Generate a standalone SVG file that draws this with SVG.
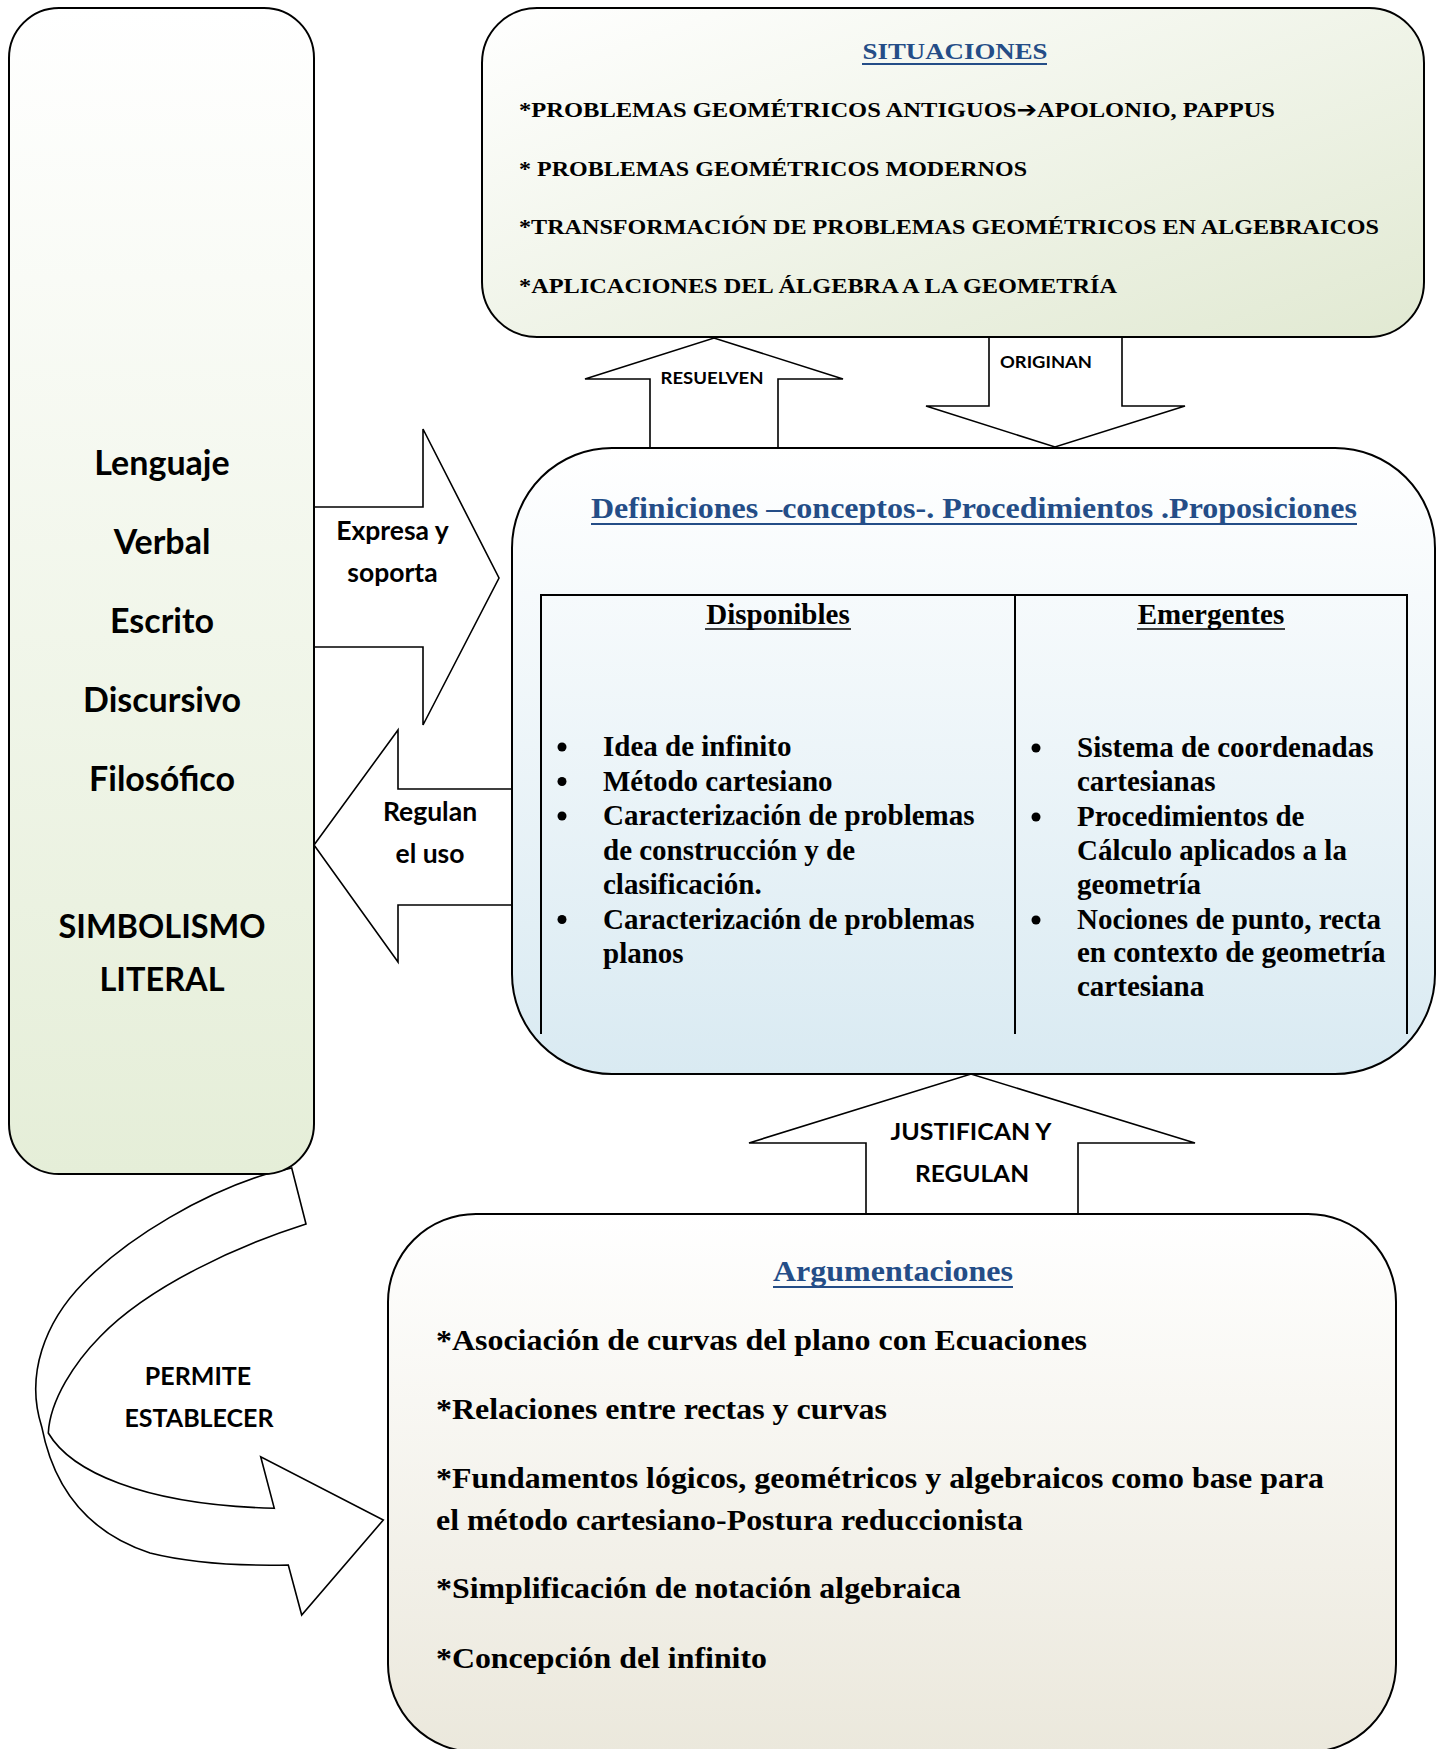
<svg xmlns="http://www.w3.org/2000/svg" width="1443" height="1749" viewBox="0 0 1443 1749">
<defs>
<linearGradient id="gLeft" x1="0" y1="0" x2="0" y2="1"><stop offset="0" stop-color="#ffffff"/><stop offset="1" stop-color="#e5eed8"/></linearGradient>
<linearGradient id="gTop" x1="0" y1="0" x2="1" y2="1"><stop offset="0" stop-color="#ffffff"/><stop offset="1" stop-color="#e1e9d2"/></linearGradient>
<linearGradient id="gMid" x1="0" y1="0" x2="0" y2="1"><stop offset="0" stop-color="#ffffff"/><stop offset="1" stop-color="#d9eaf2"/></linearGradient>
<linearGradient id="gBot" x1="0" y1="0" x2="0" y2="1"><stop offset="0" stop-color="#ffffff"/><stop offset="1" stop-color="#ebe8dc"/></linearGradient>
<style>
.box{stroke:#000;stroke-width:2}
.arr{fill:#fff;stroke:#000;stroke-width:1.6;stroke-linejoin:miter}
.lbl{font-family:Lato,"Open Sans","Liberation Sans",sans-serif;font-weight:bold;fill:#000}
.big{font-family:Lato,"Open Sans","Liberation Sans",sans-serif;font-weight:bold;font-size:34px;fill:#000;text-anchor:middle}
.caps{font-size:32.5px}
.ser{font-family:"Liberation Serif","Times New Roman",serif;font-weight:bold;fill:#000}
.blue{fill:#244d87}
.ul{stroke:#000;stroke-width:1.6}
.ulb{stroke:#244d87;stroke-width:2}
.tl{stroke:#000;stroke-width:2;fill:none}
.sym{font-family:"DejaVu Sans",sans-serif;font-weight:bold}
</style>
</defs>
<rect width="1443" height="1749" fill="#ffffff"/>

<g id="connectors">
<path class="arr" d="M291.7 1168 L306 1224 C240 1245 150 1285 100 1336.7 C75 1362 50 1400 48.3 1433 C70 1470 140 1505 274.3 1508.3 L260.7 1456.7 L383.3 1520 L301.7 1615 L288.3 1565 C240 1566 190 1563 150 1553 C80 1530 52 1480 41.7 1426.7 C25 1375 45 1322 83.3 1283 C130 1235 205 1193 266.7 1174 Z"/>
<polygon class="arr" points="650,448 650,379 585,379 714,338 843,379 778,379 778,448"/>
<polygon class="arr" points="989,337 989,406 926,406 1055,447 1185,406 1122,406 1122,337"/>
<polygon class="arr" points="314,507 423,507 423,429 499,578 423,725 423,647 314,647"/>
<polygon class="arr" points="512,789 398,789 398,730 314,845 398,962 398,905 512,905"/>
<polygon class="arr" points="866,1214 866,1143 749,1143 971,1074 1195,1143 1078,1143 1078,1214"/>
<text class="lbl" x="712" y="384" font-size="17.5" text-anchor="middle" textLength="103" lengthAdjust="spacingAndGlyphs">RESUELVEN</text>
<text class="lbl" x="1000" y="368" font-size="17.5" textLength="92" lengthAdjust="spacingAndGlyphs">ORIGINAN</text>
<text class="lbl" x="392.5" y="540" font-size="26.5" text-anchor="middle">Expresa y</text>
<text class="lbl" x="392.5" y="582" font-size="26.5" text-anchor="middle">soporta</text>
<text class="lbl" x="430" y="821" font-size="26.5" text-anchor="middle">Regulan</text>
<text class="lbl" x="430" y="863" font-size="26.5" text-anchor="middle">el uso</text>
<text class="lbl" x="971" y="1140" font-size="23.5" text-anchor="middle" textLength="161" lengthAdjust="spacingAndGlyphs">JUSTIFICAN Y</text>
<text class="lbl" x="972" y="1182" font-size="23.5" text-anchor="middle" textLength="114" lengthAdjust="spacingAndGlyphs">REGULAN</text>
<text class="lbl" x="198" y="1385" font-size="25" text-anchor="middle">PERMITE</text>
<text class="lbl" x="199" y="1427" font-size="25" text-anchor="middle">ESTABLECER</text>
</g>

<g id="lenguaje">
<rect class="box" x="9" y="8" width="305" height="1166" rx="50" fill="url(#gLeft)"/>
<text class="big" x="162" y="475">Lenguaje</text>
<text class="big" x="162" y="554">Verbal</text>
<text class="big" x="162" y="633">Escrito</text>
<text class="big" x="162" y="712">Discursivo</text>
<text class="big" x="162" y="791">Filosófico</text>
<text class="big caps" x="162" y="938">SIMBOLISMO</text>
<text class="big caps" x="162" y="991">LITERAL</text>
</g>

<g id="situaciones">
<rect class="box" x="482" y="8" width="942" height="329" rx="55" fill="url(#gTop)"/>
<text class="ser blue" x="955" y="59" font-size="24" text-anchor="middle" textLength="185" lengthAdjust="spacingAndGlyphs">SITUACIONES</text>
<line class="ulb" x1="862" y1="64" x2="1047" y2="64"/>
<text class="ser" x="519" y="117" font-size="22" textLength="756" lengthAdjust="spacingAndGlyphs">*PROBLEMAS GEOMÉTRICOS ANTIGUOS<tspan class="sym">➔</tspan>APOLONIO,  PAPPUS</text>
<text class="ser" x="519" y="176" font-size="22" textLength="508" lengthAdjust="spacingAndGlyphs">* PROBLEMAS GEOMÉTRICOS MODERNOS</text>
<text class="ser" x="519" y="234" font-size="22" textLength="860" lengthAdjust="spacingAndGlyphs">*TRANSFORMACIÓN DE PROBLEMAS GEOMÉTRICOS EN ALGEBRAICOS</text>
<text class="ser" x="519" y="293" font-size="22" textLength="598" lengthAdjust="spacingAndGlyphs">*APLICACIONES DEL ÁLGEBRA A LA GEOMETRÍA</text>
</g>

<g id="definiciones">
<rect class="box" x="512" y="448" width="923" height="626" rx="100" fill="url(#gMid)"/>
<text class="ser blue" x="591" y="518" font-size="30" textLength="766" lengthAdjust="spacingAndGlyphs">Definiciones –conceptos-. Procedimientos .Proposiciones</text>
<line class="ulb" x1="591" y1="524" x2="1357" y2="524"/>
<path class="tl" d="M541 1034 L541 595 L1407 595 L1407 1034 M1015 595 L1015 1034"/>
<text class="ser" x="778" y="624" font-size="29" text-anchor="middle">Disponibles</text>
<line class="ul" x1="705" y1="629" x2="851" y2="629"/>
<text class="ser" x="1211" y="624" font-size="29" text-anchor="middle">Emergentes</text>
<line class="ul" x1="1137" y1="629" x2="1285" y2="629"/>
<g fill="#000">
<circle cx="562" cy="747" r="4.5"/><circle cx="562" cy="781.5" r="4.5"/><circle cx="562" cy="816" r="4.5"/><circle cx="562" cy="919.5" r="4.5"/>
<circle cx="1036" cy="748" r="4.5"/><circle cx="1036" cy="817" r="4.5"/><circle cx="1036" cy="920" r="4.5"/>
</g>
<text class="ser" font-size="29">
<tspan x="603" y="756">Idea de infinito</tspan>
<tspan x="603" y="790.5">Método cartesiano</tspan>
<tspan x="603" y="825">Caracterización de problemas</tspan>
<tspan x="603" y="859.5">de construcción y de</tspan>
<tspan x="603" y="894">clasificación.</tspan>
<tspan x="603" y="928.5">Caracterización de problemas</tspan>
<tspan x="603" y="963">planos</tspan>
</text>
<text class="ser" font-size="29">
<tspan x="1077" y="757">Sistema de coordenadas</tspan>
<tspan x="1077" y="791">cartesianas</tspan>
<tspan x="1077" y="826">Procedimientos de</tspan>
<tspan x="1077" y="860">Cálculo aplicados a la</tspan>
<tspan x="1077" y="894">geometría</tspan>
<tspan x="1077" y="929">Nociones de punto, recta</tspan>
<tspan x="1077" y="962">en contexto de geometría</tspan>
<tspan x="1077" y="996">cartesiana</tspan>
</text>
</g>

<g id="argumentaciones">
<rect class="box" x="388" y="1214" width="1008" height="538" rx="88" fill="url(#gBot)"/>
<text class="ser blue" x="893" y="1281" font-size="29" text-anchor="middle" textLength="240" lengthAdjust="spacingAndGlyphs">Argumentaciones</text>
<line class="ulb" x1="773" y1="1287" x2="1013" y2="1287"/>
<text class="ser" x="436" y="1350" font-size="30" textLength="651" lengthAdjust="spacingAndGlyphs">*Asociación de curvas del plano con Ecuaciones</text>
<text class="ser" x="436" y="1419" font-size="30" textLength="451" lengthAdjust="spacingAndGlyphs">*Relaciones entre rectas y curvas</text>
<text class="ser" x="436" y="1488" font-size="30" textLength="888" lengthAdjust="spacingAndGlyphs">*Fundamentos lógicos, geométricos y algebraicos como base para</text>
<text class="ser" x="436" y="1530" font-size="30" textLength="587" lengthAdjust="spacingAndGlyphs">el método cartesiano-Postura reduccionista</text>
<text class="ser" x="436" y="1598" font-size="30" textLength="525" lengthAdjust="spacingAndGlyphs">*Simplificación de notación algebraica</text>
<text class="ser" x="436" y="1668" font-size="30" textLength="331" lengthAdjust="spacingAndGlyphs">*Concepción del infinito</text>
</g>
</svg>
